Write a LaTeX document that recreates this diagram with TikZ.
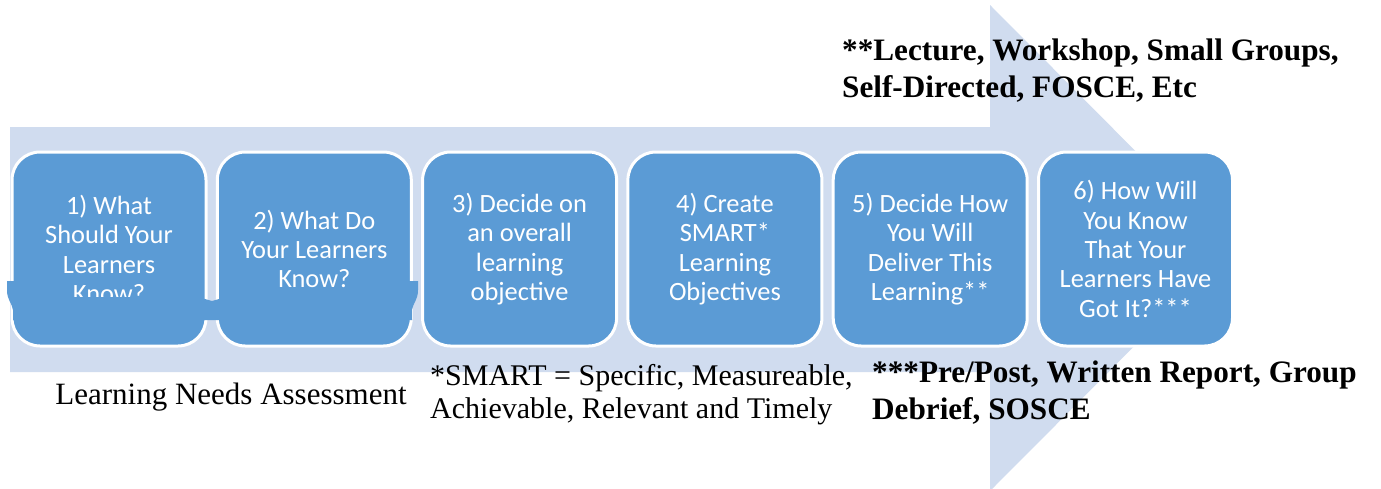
\documentclass[tikz,border=0pt]{standalone}
\usepackage{fontspec}
\setmainfont{Liberation Serif}
\newfontfamily\boxfont{Carlito}
\definecolor{arrowfill}{RGB}{208,220,239}
\definecolor{stepfill}{RGB}{91,155,213}
\begin{document}
\begin{tikzpicture}[x=1pt,y=-1pt,
  stepbox/.style={draw=white, line width=3pt, fill=stepfill,
    rounded corners=28pt, minimum width=194pt, minimum height=194pt,
    inner sep=0pt, align=center, text=white,
    font=\boxfont\fontsize{26.4}{29.3}\selectfont},
  boldnote/.style={inner sep=0pt, align=left, anchor=north west,
    font=\fontsize{31.2}{37}\selectfont\bfseries},
  plainnote/.style={inner sep=0pt, align=left, anchor=north west,
    font=\fontsize{30}{33}\selectfont}]
\clip (0,0) rectangle (1381,488);
\fill[white] (0,0) rectangle (1381,488);

% broad process arrow in the background
\fill[arrowfill] (10,127) -- (990,127) -- (990,5) -- (1232,248)
  -- (990,491) -- (990,372) -- (10,372) -- cycle;

% first two steps, grouped by the bracket below
\node[stepbox] (s1) at (109,249) {1) What\\Should Your\\Learners\\Know?};
\node[stepbox] (s2) at (314.3,249) {2) What Do\\Your Learners\\Know?};
\fill[stepfill] (7,281) -- (22,281) .. controls (26,281) and (28,290) .. (32,297)
  -- (198,297) -- (212,301) -- (226,297) -- (393,297)
  .. controls (397,290) and (399,281) .. (403,281) -- (418,281) -- (418,290)
  .. controls (418,300) and (413,303) .. (412,310) -- (412,320) -- (13,320)
  -- (13,310) .. controls (12,303) and (7,300) .. (7,290) -- cycle;

\node[stepbox] (s3) at (519.6,249) {3) Decide on\\an overall\\learning\\objective};
\node[stepbox] (s4) at (724.9,249) {4) Create\\SMART*\\Learning\\Objectives};
\node[stepbox] (s5) at (930.2,249) {5) Decide How\\You Will\\Deliver This\\Learning**};
\node[stepbox] (s6) at (1135.5,249) {6) How Will\\You Know\\That Your\\Learners Have\\Got It?***};

% notes
\node[boldnote] (delivery) at (842,39) {**Lecture, Workshop, Small Groups,\\Self-Directed, FOSCE, Etc};
\node[boldnote] (assess) at (872,361) {***Pre/Post, Written Report, Group\\Debrief, SOSCE};
\node[plainnote] (smart) at (430,364) {*SMART = Specific, Measureable,\\Achievable, Relevant and Timely};
\node[inner sep=0pt, anchor=base, font=\fontsize{31}{33}\selectfont] (lna) at (231,404) {Learning Needs Assessment};
\end{tikzpicture}
\end{document}
